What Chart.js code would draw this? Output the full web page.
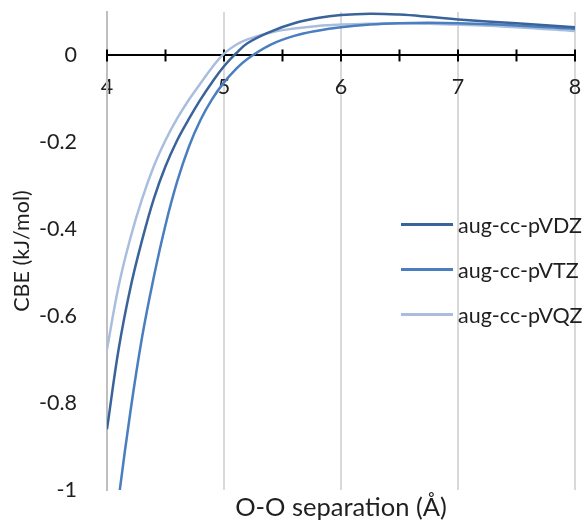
<!DOCTYPE html>
<html>
<head>
<meta charset="utf-8">
<script src="https://cdn.jsdelivr.net/npm/chart.js@4.4.0/dist/chart.umd.min.js"></script>
<style>
  body { margin: 0; background: #fff; }
  #wrap { position: relative; width: 584px; height: 523px; }
  #legend { position: absolute; left: 401px; top: 202px; font: 21.5px Lato, sans-serif; color: #1f1f1f; }
  .item { display: flex; align-items: center; height: 45px; white-space: nowrap; }
  .swatch { width: 52px; height: 0; border-top: 3px solid; margin-right: 5px; }
</style>
</head>
<body>
<div id="wrap">
  <canvas id="cbeChart" width="584" height="523"></canvas>
  <div id="legend"></div>
</div>
<script>
const separation = [4.0, 4.1, 4.2, 4.3, 4.4, 4.5, 4.6, 4.7, 4.8, 4.9, 5.0, 5.1, 5.2, 5.4, 5.6, 5.8, 6.0, 6.25, 6.5, 6.75, 7.0, 7.5, 8.0];
const pVDZ = [-0.86, -0.675, -0.535, -0.425, -0.33, -0.255, -0.195, -0.146, -0.101, -0.061, -0.025, 0.004, 0.028, 0.055, 0.074, 0.086, 0.093, 0.096, 0.094, 0.089, 0.083, 0.074, 0.065];
const pVTZ = [-1.25, -1.02, -0.82, -0.648, -0.51, -0.39, -0.29, -0.21, -0.148, -0.1, -0.062, -0.032, -0.008, 0.025, 0.045, 0.057, 0.065, 0.071, 0.074, 0.075, 0.074, 0.069, 0.061];
const pVQZ = [-0.676, -0.53, -0.42, -0.33, -0.255, -0.195, -0.145, -0.102, -0.064, -0.027, 0.004, 0.024, 0.037, 0.053, 0.062, 0.068, 0.071, 0.073, 0.074, 0.073, 0.071, 0.065, 0.056];

const seriesNames = ["aug-cc-pVDZ", "aug-cc-pVTZ", "aug-cc-pVQZ"];
const seriesColors = ["#3a6399", "#4a7ebf", "#a9bedf"];
const xTicks = [4, 4.5, 5, 5.5, 6, 6.5, 7, 7.5, 8];
const yTicks = [-1, -0.8, -0.6, -0.4, -0.2, 0];

const font = { family: "Lato, sans-serif", size: 21.5 };
const textColor = "#1f1f1f";

function toPoints(values) {
    return separation.map((x, i) => ({ x: x, y: values[i] }));
}

// small black ticks crossing the axis line at y = 0
const crossTicks = {
    id: "crossTicks",
    beforeDatasetsDraw(chart) {
        const { ctx, scales } = chart;
        const y0 = scales.y.getPixelForValue(0);
        ctx.save();
        ctx.strokeStyle = "#000";
        ctx.lineWidth = 2;
        xTicks.forEach((v) => {
            const px = scales.x.getPixelForValue(v);
            ctx.beginPath();
            ctx.moveTo(px, y0 - 6);
            ctx.lineTo(px, y0 + 6);
            ctx.stroke();
        });
        ctx.restore();
    },
};

const ctx = document.getElementById("cbeChart").getContext("2d");
new Chart(ctx, {
    type: "line",
    data: {
        datasets: [pVDZ, pVTZ, pVQZ].map((values, i) => ({
            label: seriesNames[i],
            data: toPoints(values),
            borderColor: seriesColors[i],
            backgroundColor: seriesColors[i],
            borderWidth: 2.5,
            pointRadius: 0,
            tension: 0.4,
            fill: false,
        })),
    },
    options: {
        responsive: false,
        animation: false,
        layout: { padding: { top: 12, right: 9, left: 0, bottom: 0 } },
        plugins: {
            legend: { display: false },
            tooltip: { enabled: false },
        },
        scales: {
            x: {
                type: "linear",
                min: 4,
                max: 8,
                position: { y: 0 },
                afterBuildTicks: (s) => { s.ticks = xTicks.map((v) => ({ value: v })); },
                afterFit: (s) => {
                    s.height = 0;
                    s.paddingLeft = 0;
                    s.paddingRight = 0;
                },
                grid: {
                    color: (c) => (Number.isInteger(c.tick.value) ? "#d9d9d9" : "rgba(0,0,0,0)"),
                    lineWidth: 2,
                    drawTicks: false,
                },
                border: { color: "#000", width: 2 },
                ticks: {
                    callback: (v) => (Number.isInteger(v) ? String(v) : ""),
                    padding: 19,
                    font: font,
                    color: textColor,
                    maxRotation: 0,
                    autoSkip: false,
                },
            },
            // bottom axis only carries the title, centred under the plot
            xTitle: {
                type: "linear",
                position: "bottom",
                min: 4,
                max: 8,
                grid: { display: false, drawTicks: false },
                border: { display: false },
                ticks: { display: false },
                afterFit: (s) => {
                    s.height = 33;
                    s.paddingLeft = 0;
                    s.paddingRight = 0;
                },
                title: {
                    display: true,
                    text: "O-O separation (Å)",
                    font: { family: "Lato, sans-serif", size: 25.5 },
                    color: textColor,
                    padding: { top: 3, bottom: 0 },
                },
            },
            y: {
                min: -1,
                max: 0.1,
                afterBuildTicks: (s) => { s.ticks = yTicks.map((v) => ({ value: v })); },
                afterFit: (s) => {
                    s.width = 107;
                    s.paddingTop = 0;
                    s.paddingBottom = 0;
                },
                grid: { display: false },
                border: { color: "#bfbfbf", width: 2 },
                ticks: {
                    callback: (v) => String(v),
                    padding: 22,
                    font: font,
                    color: textColor,
                },
                title: {
                    display: true,
                    text: "CBE (kJ/mol)",
                    font: font,
                    color: textColor,
                    padding: { top: 9, bottom: 0 },
                },
            },
        },
    },
    plugins: [crossTicks],
});

const legend = document.getElementById("legend");
seriesNames.forEach((name, i) => {
    const item = document.createElement("div");
    item.className = "item";
    const sw = document.createElement("span");
    sw.className = "swatch";
    sw.style.borderColor = seriesColors[i];
    const label = document.createElement("span");
    label.textContent = name;
    item.appendChild(sw);
    item.appendChild(label);
    legend.appendChild(item);
});
</script>
</body>
</html>
